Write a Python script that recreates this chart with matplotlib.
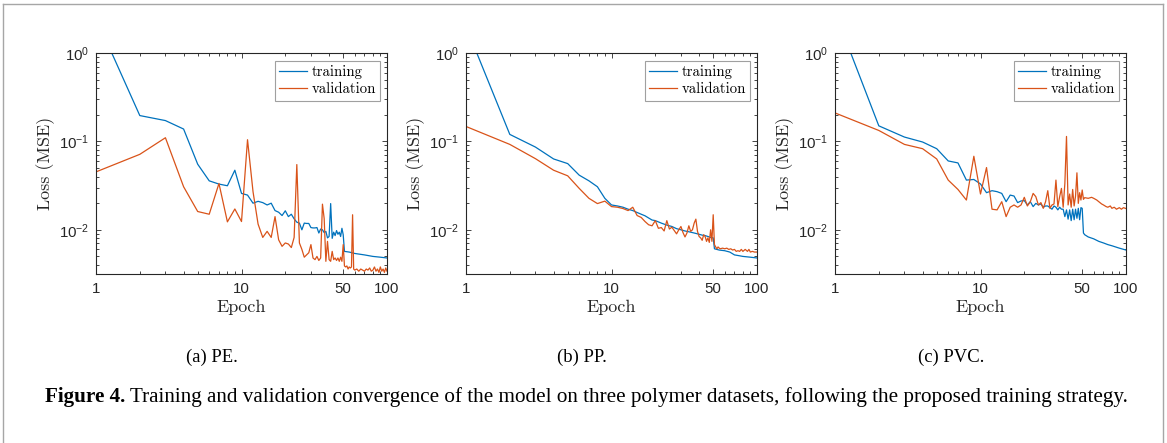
import matplotlib
matplotlib.use("Agg")
import matplotlib.pyplot as plt
from matplotlib.lines import Line2D
from matplotlib.ticker import FixedLocator, FixedFormatter, LogLocator, NullFormatter

# ---- data (loss per epoch, log-log) ----
pe_train_ep = list(range(1, 52)) + [55, 60, 70, 80, 90, 100]
pe_train = [2.5, 0.196, 0.172, 0.138, 0.0552, 0.0358, 0.0329, 0.0315, 0.0472, 0.0258,
            0.0247, 0.0200, 0.0210, 0.0203, 0.0191, 0.0200, 0.0165, 0.0158, 0.0145, 0.0164,
            0.0141, 0.0150, 0.0133, 0.0122, 0.0119, 0.0100, 0.0119, 0.0118, 0.0118, 0.0106,
            0.0105, 0.0105, 0.0106, 0.0092, 0.0102, 0.0100, 0.0093, 0.0096, 0.0081, 0.0084,
            0.0198, 0.0080, 0.0094, 0.0086, 0.0098, 0.0089, 0.0094, 0.0084, 0.0104, 0.0088,
            0.0057, 0.0056, 0.0054, 0.0052, 0.0050, 0.0049, 0.0048]
pe_val_ep = list(range(1, 61)) + list(range(62, 101, 2))
pe_val = [0.0452, 0.0714, 0.110, 0.0307, 0.0161, 0.0150, 0.0334, 0.0123, 0.0172, 0.0124,
          0.1045, 0.0270, 0.0116, 0.0082, 0.0096, 0.0082, 0.0141, 0.0077, 0.0065, 0.0071,
          0.0069, 0.0063, 0.0082, 0.0547, 0.0071, 0.0060, 0.0049, 0.0052, 0.0055, 0.0068,
          0.0048, 0.0046, 0.0050, 0.0045, 0.0048, 0.0195, 0.0134, 0.0044, 0.0074, 0.0046,
          0.0044, 0.0057, 0.0046, 0.0048, 0.0045, 0.0048, 0.0044, 0.0049, 0.0044, 0.0068,
          0.0039, 0.0038, 0.0039, 0.0036, 0.0038, 0.0037, 0.0038, 0.0148, 0.0036, 0.0035,
          0.0036, 0.0034, 0.0036, 0.0035, 0.0034, 0.0036, 0.0035, 0.0037, 0.0034, 0.0035,
          0.0038, 0.0034, 0.0036, 0.0033, 0.0038, 0.0034, 0.0036, 0.0033, 0.0037, 0.0034]

pp_train_ep = list(range(1, 21)) + list(range(22, 51, 2)) + [51, 55, 60, 65, 70, 75, 80, 90, 100]
pp_train = [2.0, 0.120, 0.0863, 0.0633, 0.0561, 0.0415, 0.0358, 0.0307, 0.0227, 0.0191,
            0.0186, 0.0180, 0.0171, 0.0165, 0.0157, 0.0150, 0.0144, 0.0136, 0.0129, 0.0127,
            0.0119, 0.0113, 0.0109, 0.0103, 0.0100, 0.0097, 0.0095, 0.0093, 0.0091, 0.0089,
            0.0087, 0.0086, 0.0084, 0.0082, 0.0081,
            0.0061, 0.0059, 0.0058, 0.0056, 0.0052, 0.0051, 0.0050, 0.0049, 0.0048]
pp_val_ep = list(range(1, 57)) + list(range(58, 81, 2)) + [83, 86, 88, 90, 93, 96, 100]
pp_val = [0.1475, 0.0925, 0.0638, 0.0472, 0.0408, 0.0294, 0.0227, 0.0198, 0.0211, 0.0183,
          0.0180, 0.0174, 0.0165, 0.0180, 0.0145, 0.0138, 0.0124, 0.0114, 0.0111, 0.0127,
          0.0104, 0.0106, 0.0097, 0.0127, 0.0102, 0.0107, 0.0098, 0.0090, 0.0100, 0.0109,
          0.0093, 0.0083, 0.0092, 0.0111, 0.0096, 0.0100, 0.0119, 0.0132, 0.0096, 0.0084,
          0.0081, 0.0076, 0.0088, 0.0084, 0.0074, 0.0081, 0.0072, 0.0100, 0.0074, 0.0148,
          0.0068, 0.0064, 0.0061, 0.0064, 0.0062, 0.0061,
          0.0062, 0.0061, 0.0062, 0.0060, 0.0061, 0.0059, 0.0060, 0.0057, 0.0058, 0.0057,
          0.0060, 0.0057, 0.0060, 0.0057, 0.0060, 0.0056, 0.0057, 0.0056, 0.0056]

pvc_train_ep = list(range(1, 53)) + [55, 60, 65, 70, 75, 80, 90, 100]
pvc_train = [2.9, 0.150, 0.112, 0.0984, 0.0827, 0.0601, 0.0571, 0.0365, 0.0371, 0.0330,
             0.0263, 0.0277, 0.0270, 0.0258, 0.0208, 0.0247, 0.0241, 0.0203, 0.0212, 0.0214,
             0.0191, 0.0208, 0.0183, 0.0199, 0.0191, 0.0196, 0.0180, 0.0186, 0.0186, 0.0178,
             0.0171, 0.0186, 0.0180, 0.0168, 0.0180, 0.0171, 0.0171, 0.0141, 0.0168, 0.0132,
             0.0168, 0.0127, 0.0171, 0.0130, 0.0171, 0.0135, 0.0175, 0.0130, 0.0178, 0.0175,
             0.0092, 0.0088, 0.0083, 0.0079, 0.0074, 0.0071, 0.0068, 0.0066, 0.0062, 0.0059]
pvc_val_ep = list(range(1, 53)) + [55, 58, 60, 63, 65, 68, 70, 73, 75, 78, 80, 83, 86, 90, 93, 96, 100]
pvc_val = [0.210, 0.133, 0.0925, 0.0827, 0.0633, 0.0365, 0.0286, 0.0217, 0.0679, 0.0254,
           0.0506, 0.0171, 0.0168, 0.0208, 0.0141, 0.0180, 0.0191, 0.0180, 0.0191, 0.0233,
           0.0186, 0.0208, 0.0258, 0.0237, 0.0191, 0.0203, 0.0175, 0.0208, 0.0277, 0.0175,
           0.0191, 0.0196, 0.0365, 0.0183, 0.0237, 0.0294, 0.0180, 0.0334, 0.1138, 0.0191,
           0.0254, 0.0180, 0.0286, 0.0186, 0.0241, 0.0441, 0.0199, 0.0263, 0.0217, 0.0282,
           0.0221, 0.0231,
           0.0227, 0.0233, 0.0227, 0.0217, 0.0208, 0.0196, 0.0191, 0.0183, 0.0180, 0.0186,
           0.0175, 0.0180, 0.0171, 0.0178, 0.0171, 0.0178, 0.0174]

panels = [
    (pe_train_ep, pe_train, pe_val_ep, pe_val, "(a) PE."),
    (pp_train_ep, pp_train, pp_val_ep, pp_val, "(b) PP."),
    (pvc_train_ep, pvc_train, pvc_val_ep, pvc_val, "(c) PVC."),
]

blue = "#0072BD"
orange = "#D95319"

plt.rcParams['font.family'] = ['Liberation Sans', 'DejaVu Sans']
plt.rcParams['axes.linewidth'] = 0.8

W, H = 1167, 443
fig = plt.figure(figsize=(W / 100, H / 100), dpi=100)

lefts = [96, 466, 835]
ax_w, ax_top, ax_bot = 291, 53, 274

for left, (tr_ep, tr, va_ep, va, cap) in zip(lefts, panels):
    ax = fig.add_axes([left / W, (H - ax_bot) / H, ax_w / W, (ax_bot - ax_top) / H])
    ax.plot(tr_ep, tr, color=blue, lw=0.9, label="training")
    ax.plot(va_ep, va, color=orange, lw=0.9, label="validation")
    ax.set_xscale("log")
    ax.set_yscale("log")
    ax.set_xlim(1, 100)
    ax.set_ylim(10 ** -2.5, 1)

    ax.xaxis.set_major_locator(FixedLocator([1, 10, 50, 100]))
    ax.xaxis.set_major_formatter(FixedFormatter(["1", "10", "50", "100"]))
    ax.xaxis.set_minor_locator(LogLocator(base=10, subs=range(2, 10)))
    ax.xaxis.set_minor_formatter(NullFormatter())
    ax.yaxis.set_major_locator(FixedLocator([1e-2, 1e-1, 1]))
    ax.yaxis.set_major_formatter(FixedFormatter([r"$\mathregular{10^{-2}}$",
                                                 r"$\mathregular{10^{-1}}$",
                                                 r"$\mathregular{10^{0}}$"]))
    ax.yaxis.set_minor_locator(LogLocator(base=10, subs=range(2, 10)))
    ax.yaxis.set_minor_formatter(NullFormatter())

    ax.tick_params(which="both", direction="in", top=True, right=True,
                   colors="#262626", width=0.6, labelsize=10.8, labelcolor="#262626")
    ax.tick_params(which="major", length=3.5)
    ax.tick_params(which="minor", length=2)
    ax.tick_params(axis="x", pad=6)
    ax.tick_params(axis="y", pad=5)
    for s in ax.spines.values():
        s.set_color("#262626")

    ax.set_xlabel("Epoch", family="cmr10", fontsize=13, color="#262626")
    ax.xaxis.set_label_coords(0.5, -0.115)
    ax.set_ylabel("Loss (MSE)", family="cmr10", fontsize=13, color="#262626")
    ax.yaxis.set_label_coords(-0.142, 0.5)

    leg = ax.legend(loc="upper right", bbox_to_anchor=(0.977, 0.966), borderaxespad=0,
                    prop={"family": "cmr10", "size": 10.6}, fancybox=False,
                    handlelength=1.9, handletextpad=0.3, borderpad=0.3,
                    labelspacing=0.25, framealpha=1)
    leg.get_frame().set_edgecolor("#a0a0a0")
    leg.get_frame().set_linewidth(0.8)

    # sub-caption centred under the whole sub-figure (labels included)
    cx = ((left - 59) + (left + ax_w)) / 2
    fig.text(cx / W, (H - 357) / H, cap, family="Liberation Serif", fontsize=13.4,
             ha="center", va="center")

# figure caption
bold = fig.text(45 / W, (H - 402) / H, "Figure 4.", family="Liberation Serif",
                fontsize=15.2, weight="bold", ha="left", va="baseline")
plt.annotate(" Training and validation convergence of the model on three polymer datasets, "
             "following the proposed training strategy.",
             xy=(1, 0), xycoords=bold, va="bottom", ha="left",
             family="Liberation Serif", fontsize=15.2, annotation_clip=False)

# thin grey frame around the figure panel
frame_c = "#a6a6a6"
for xs, ys in [((3, 1163), (4, 4)), ((3, 3), (4, H)), ((1163, 1163), (4, H))]:
    fig.add_artist(Line2D([x / W for x in xs], [(H - y) / H for y in ys],
                          color=frame_c, lw=1.0, transform=fig.transFigure))

fig.savefig("out.png", dpi=100)
